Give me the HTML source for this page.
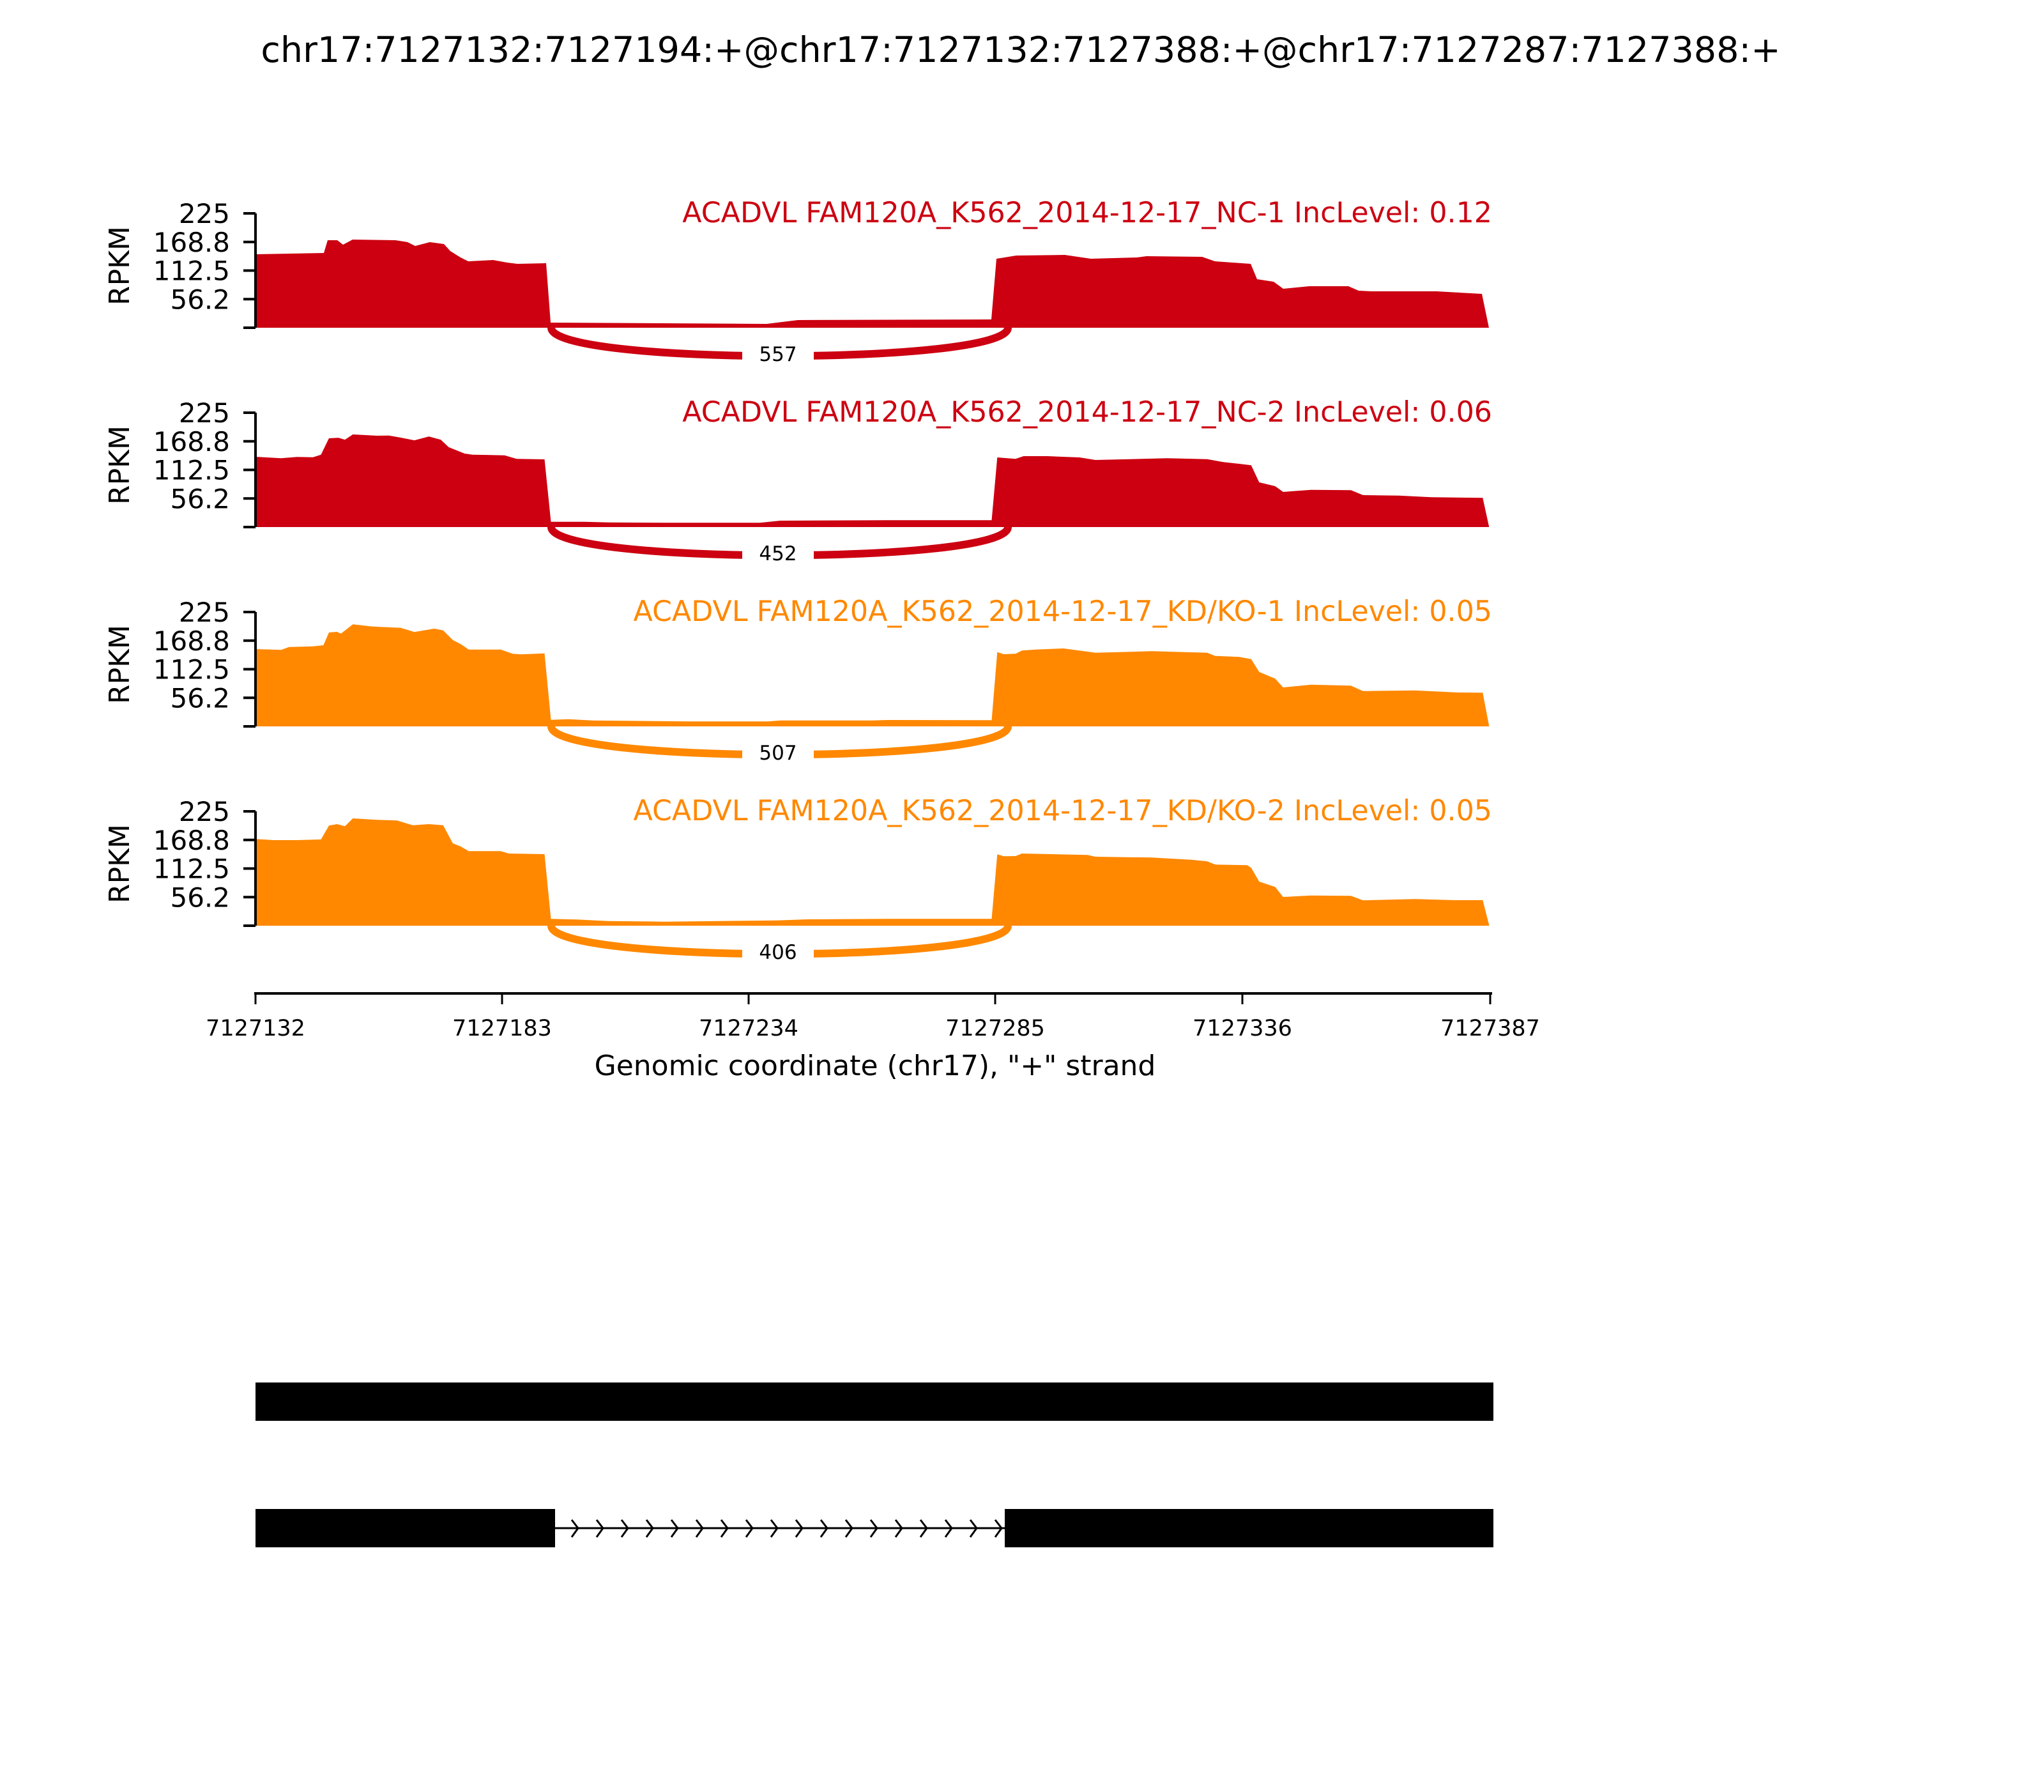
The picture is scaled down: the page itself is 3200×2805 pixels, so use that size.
<!DOCTYPE html>
<html><head><meta charset="utf-8">
<style>
html,body{margin:0;padding:0;background:#fff;}
svg text{font-family:"DejaVu Sans","Liberation Sans",sans-serif;}
</style></head>
<body>
<svg id="s" xmlns="http://www.w3.org/2000/svg" width="3200" height="2800" viewBox="0 0 3200 2800">
<rect width="3200" height="2800" fill="#fff"/>
<text x="1598" y="97" font-size="55.5" text-anchor="middle">chr17:7127132:7127194:+@chr17:7127132:7127388:+@chr17:7127287:7127388:+</text>
<g id="panels"></g>
<line x1="398" y1="1555" x2="2336" y2="1555" stroke="#000" stroke-width="4"/>
<g stroke="#000" stroke-width="3">
<line x1="400" y1="1555" x2="400" y2="1572"/><line x1="786" y1="1555" x2="786" y2="1572"/>
<line x1="1172" y1="1555" x2="1172" y2="1572"/><line x1="1558" y1="1555" x2="1558" y2="1572"/>
<line x1="1945" y1="1555" x2="1945" y2="1572"/><line x1="2333" y1="1555" x2="2333" y2="1572"/>
</g>
<g font-size="35" text-anchor="middle">
<text x="400" y="1621">7127132</text><text x="786" y="1621">7127183</text>
<text x="1172" y="1621">7127234</text><text x="1558" y="1621">7127285</text>
<text x="1945" y="1621">7127336</text><text x="2333" y="1621">7127387</text>
</g>
<text x="1370" y="1683" font-size="44" text-anchor="middle">Genomic coordinate (chr17), "+" strand</text>
<rect x="400" y="2164" width="1938" height="60" fill="#000"/>
<rect x="400" y="2362" width="469" height="60" fill="#000"/>
<rect x="1573" y="2362" width="765" height="60" fill="#000"/>
<line x1="869" y1="2392" x2="1573" y2="2392" stroke="#000" stroke-width="3"/>
<g id="chev" fill="none" stroke="#000" stroke-width="3"></g>
</svg>
<script>
var NS="http://www.w3.org/2000/svg";
var P=document.getElementById("panels");
function el(n,a,p){var e=document.createElementNS(NS,n);for(var k in a)e.setAttribute(k,a[k]);(p||P).appendChild(e);return e;}
var p1=[[400,398],[507,396],[513,376],[528,376],[537,383],[552,375],[619,376],[638,379],[650,385],[673,379],[695,382],[705,393],[721,403],[733,409],[772,407],[794,411],[810,413],[855,412],[862,505],[1200,507],[1249,501],[1552,500],[1560,405],[1591,400],[1667,399],[1708,405],[1780,403],[1795,401],[1882,402],[1902,409],[1958,413],[1968,437],[1994,441],[2009,452],[2050,448],[2111,448],[2127,455],[2147,456],[2249,456],[2320,460],[2331,513]];
function conv(arr,y0){return arr.map(function(p){return [390+p[0]*1.25,y0+p[1]/3];});}
var p2=conv([[10,255],[40,262],[60,256],[80,257],[90,245],[100,168],[112,166],[120,175],[130,150],[160,156],[175,155],[190,165],[207,178],[225,160],[240,175],[250,210],[270,240],[280,245],[320,248],[335,265],[370,267],[378,560],[420,560],[450,563],[520,565],[640,565],[665,555],[800,553],[930,553],[937,258],[960,265],[970,252],[1000,252],[1040,258],[1060,270],[1150,262],[1200,266],[1220,280],[1240,288],[1255,295],[1265,375],[1285,393],[1295,420],[1330,410],[1380,412],[1395,435],[1440,437],[1480,445],[1545,448],[1553,585]],630);
var p3=conv([[10,228],[40,232],[50,218],[80,215],[93,210],[100,150],[110,147],[115,155],[130,112],[155,122],[190,128],[207,148],[232,132],[243,140],[255,185],[265,205],[275,230],[315,230],[330,250],[340,253],[370,248],[378,560],[400,557],[430,563],[550,568],[650,568],[665,563],[780,563],[800,561],[930,562],[937,242],[945,252],[960,250],[968,235],[985,230],[1020,225],[1050,240],[1060,245],[1130,238],[1200,245],[1210,260],[1240,265],[1255,275],[1265,335],[1285,367],[1295,408],[1330,395],[1380,400],[1395,425],[1460,422],[1515,432],[1545,433],[1553,590]],940);
var p4=conv([[10,175],[30,180],[60,180],[90,177],[100,112],[110,105],[120,115],[130,78],[160,85],[185,88],[205,110],[225,105],[243,110],[255,195],[265,210],[275,232],[315,232],[325,243],[370,246],[378,550],[410,553],[450,560],[520,563],[660,557],[700,552],[800,550],[930,550],[937,247],[945,256],[960,255],[968,243],[1050,250],[1060,258],[1130,262],[1180,272],[1200,280],[1210,295],[1250,298],[1255,310],[1265,375],[1285,400],[1295,447],[1330,440],[1380,442],[1395,463],[1460,457],[1510,462],[1545,462],[1553,580]],1255);
var panels=[
 {pts:p1,b:513,c:"#cc0011",lab:"ACADVL FAM120A_K562_2014-12-17_NC-1 IncLevel: 0.12",j:"557"},
 {pts:p2,b:825,c:"#cc0011",lab:"ACADVL FAM120A_K562_2014-12-17_NC-2 IncLevel: 0.06",j:"452"},
 {pts:p3,b:1137,c:"#ff8800",lab:"ACADVL FAM120A_K562_2014-12-17_KD/KO-1 IncLevel: 0.05",j:"507"},
 {pts:p4,b:1449,c:"#ff8800",lab:"ACADVL FAM120A_K562_2014-12-17_KD/KO-2 IncLevel: 0.05",j:"406"}];
panels.forEach(function(p){
 var b=p.b,t=b-179;
 var pts=p.pts.slice();pts[0]=[400,pts[0][1]];
 var d="M400,"+b+" L"+pts.map(function(q){return q[0].toFixed(1)+","+q[1].toFixed(1);}).join(" L")+" L"+pts[pts.length-1][0].toFixed(1)+","+b+" Z";
 el("path",{d:d,fill:p.c});
 el("path",{d:"M863,"+b+" C863,"+(b+59)+" 1578,"+(b+59)+" 1578,"+b,fill:"none",stroke:p.c,"stroke-width":12});
 el("rect",{x:1162,y:b+20,width:112,height:40,fill:"#fff"});
 var jt=el("text",{x:1218,y:b+52,"font-size":31,"text-anchor":"middle"});jt.textContent=p.j;
 el("line",{x1:400,y1:t,x2:400,y2:b,stroke:"#000","stroke-width":4});
 var vals=["","56.2","112.5","168.8","225"];
 for(var i=0;i<5;i++){var y=b-i*179/4;
  el("line",{x1:381,y1:y,x2:400,y2:y,stroke:"#000","stroke-width":4});
  if(vals[i]){var tt=el("text",{x:360,y:y+15,"font-size":42,"text-anchor":"end"});tt.textContent=vals[i];}}
 var r=el("text",{x:0,y:0,"font-size":44,"text-anchor":"middle",transform:"translate(202,"+(t+82)+") rotate(-90)"});r.textContent="RPKM";
 var l=el("text",{x:2336,y:t+14,"font-size":44.3,"text-anchor":"end",fill:p.c});l.textContent=p.lab;
});
var C=document.getElementById("chev");
for(var k=0;k<18;k++){var x=895+k*39;el("path",{d:"M"+x+",2379 L"+(x+10)+",2392 L"+x+",2406"},C);}
</script>
</body></html>
